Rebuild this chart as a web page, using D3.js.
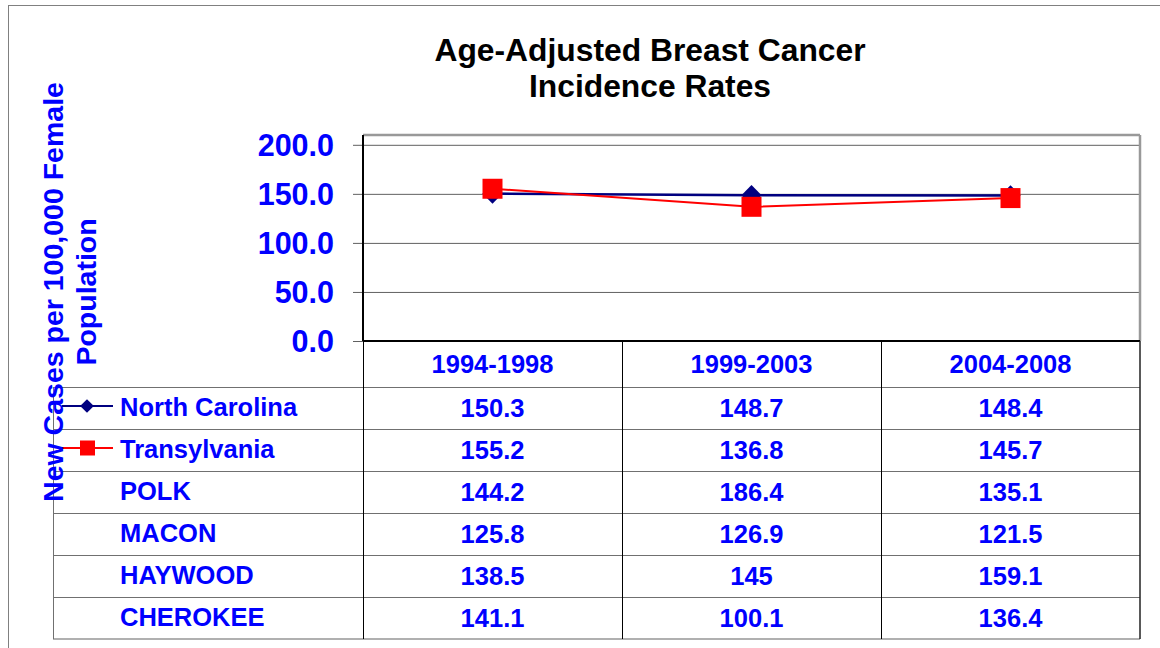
<!DOCTYPE html>
<html>
<head>
<meta charset="utf-8">
<script src="https://cdn.jsdelivr.net/npm/d3@7"></script>
<style>
  html, body { margin: 0; padding: 0; background: #fff; }
  svg { display: block; }
  text { font-family: "Liberation Sans", Arial, sans-serif; font-weight: bold; }
</style>
</head>
<body>
<script>
const periods = ["1994-1998", "1999-2003", "2004-2008"];
const regions = ["North Carolina", "Transylvania", "POLK", "MACON", "HAYWOOD", "CHEROKEE"];
const northCarolina = [150.3, 148.7, 148.4];
const transylvania = [155.2, 136.8, 145.7];
const polk = [144.2, 186.4, 135.1];
const macon = [125.8, 126.9, 121.5];
const haywood = [138.5, 145, 159.1];
const cherokee = [141.1, 100.1, 136.4];
const yTicks = [0, 50, 100, 150, 200];
const titleLines = ["Age-Adjusted Breast Cancer", "Incidence Rates"];
const yTitleLines = ["New Cases per 100,000 Female", "Population"];

const tableValues = [northCarolina, transylvania, polk, macon, haywood, cherokee];
const plotted = [
  { name: "North Carolina", values: northCarolina, color: "#000080", marker: "diamond" },
  { name: "Transylvania", values: transylvania, color: "#ff0000", marker: "square" }
];

const W = 1160, H = 648;
const blue = "#0000ff";
const svg = d3.select("body").append("svg").attr("width", W).attr("height", H);

// outer border
svg.append("rect").attr("x", 8.5).attr("y", 5.5).attr("width", 1170).attr("height", 660)
  .attr("fill", "none").attr("stroke", "#808080").attr("stroke-width", 1);

const plotL = 363, plotR = 1140, plotT = 135, plotB = 341;
const x = d3.scaleBand().domain(periods).range([plotL, plotR]);
const y = d3.scaleLinear().domain([0, 210]).range([plotB, plotT]);
const rowY = d3.scaleBand().domain(regions).range([387, 639]);

// title
svg.append("g").selectAll("text").data(titleLines).join("text")
  .attr("x", 650).attr("y", (d, i) => 61 + i * 36)
  .attr("text-anchor", "middle").attr("font-size", 31.8).attr("fill", "#000")
  .text(d => d);

// gridlines + ticks
const yAxis = d3.axisLeft(y).tickValues(yTicks).tickSize(-(plotR - plotL)).tickPadding(18)
  .tickFormat(d3.format(".1f"));
const gy = svg.append("g").attr("transform", `translate(${plotL},0)`).call(yAxis);
gy.select(".domain").remove();
gy.selectAll(".tick line").attr("stroke", "#606060").attr("stroke-width", 1)
  .attr("x1", -10);
gy.selectAll(".tick text").attr("font-size", 30.5).attr("fill", blue)
  .attr("font-family", "'Liberation Sans', Arial, sans-serif").attr("font-weight", "bold")
  .attr("dy", "0.36em").attr("x", -29);

// plot border
svg.append("line").attr("x1", plotL).attr("x2", plotR).attr("y1", plotT).attr("y2", plotT)
  .attr("stroke", "#999").attr("stroke-width", 2.5);
svg.append("line").attr("x1", plotR).attr("x2", plotR).attr("y1", plotT).attr("y2", plotB)
  .attr("stroke", "#999").attr("stroke-width", 2.5);
svg.append("line").attr("x1", plotL).attr("x2", plotL).attr("y1", plotT).attr("y2", plotB)
  .attr("stroke", "#000").attr("stroke-width", 2);
svg.append("line").attr("x1", plotL).attr("x2", plotR).attr("y1", y(0)).attr("y2", y(0))
  .attr("stroke", "#000").attr("stroke-width", 2);

// table grid
const tbl = svg.append("g");
const tableL = 53;
tbl.selectAll("line.h").data(regions.slice(1)).join("line")
  .attr("x1", tableL).attr("x2", plotR)
  .attr("y1", d => Math.round(rowY(d)) + 0.5).attr("y2", d => Math.round(rowY(d)) + 0.5)
  .attr("stroke", "#707070").attr("stroke-width", 1);
tbl.append("line").attr("x1", tableL).attr("x2", plotR)
  .attr("y1", rowY(regions[0]) + 0.5).attr("y2", rowY(regions[0]) + 0.5)
  .attr("stroke", "#707070").attr("stroke-width", 1);
tbl.append("line").attr("x1", tableL).attr("x2", plotR).attr("y1", 639).attr("y2", 639)
  .attr("stroke", "#b0b0b0").attr("stroke-width", 2);
tbl.append("line").attr("x1", tableL + 0.5).attr("x2", tableL + 0.5).attr("y1", 387).attr("y2", 639)
  .attr("stroke", "#707070").attr("stroke-width", 1);
tbl.selectAll("line.v").data(periods).join("line")
  .attr("x1", d => Math.round(x(d)) + 0.5).attr("x2", d => Math.round(x(d)) + 0.5)
  .attr("y1", plotB).attr("y2", 639).attr("stroke", "#000").attr("stroke-width", 1);
tbl.append("line").attr("x1", plotR).attr("x2", plotR).attr("y1", plotB).attr("y2", 639)
  .attr("stroke", "#222").attr("stroke-width", 1.5);

// header
tbl.selectAll("text.hdr").data(periods).join("text")
  .attr("x", d => x(d) + x.bandwidth() / 2).attr("y", 364 + 9)
  .attr("text-anchor", "middle").attr("font-size", 25.5).attr("fill", blue)
  .text(d => d);

// row labels
tbl.selectAll("text.rl").data(regions).join("text")
  .attr("x", 120).attr("y", d => rowY(d) + rowY.bandwidth() / 2 + 8)
  .attr("font-size", 25.5).attr("fill", blue).text(d => d);

// values
regions.forEach((r, ri) => {
  tbl.selectAll(null).data(tableValues[ri]).join("text")
    .attr("x", (d, i) => x(periods[i]) + x.bandwidth() / 2)
    .attr("y", rowY(r) + rowY.bandwidth() / 2 + 9)
    .attr("text-anchor", "middle").attr("font-size", 25.5).attr("fill", blue)
    .text(d => String(d));
});

// legend keys
plotted.forEach(s => {
  const cy = rowY(s.name) + rowY.bandwidth() / 2 - 2;
  svg.append("line").attr("x1", 62).attr("x2", 113).attr("y1", cy).attr("y2", cy)
    .attr("stroke", s.color).attr("stroke-width", 2);
  if (s.marker === "diamond") {
    svg.append("path").attr("d", d3.symbol(d3.symbolDiamond2, 120)())
      .attr("transform", `translate(87,${cy})`).attr("fill", s.color);
  } else {
    svg.append("rect").attr("x", 80).attr("y", cy - 7.5).attr("width", 15).attr("height", 15)
      .attr("fill", s.color);
  }
});

// series lines + markers
const line = d3.line().x((d, i) => x(periods[i]) + x.bandwidth() / 2).y(d => y(d));
plotted.forEach(s => {
  const g = svg.append("g");
  g.append("path").datum(s.values).attr("d", line).attr("fill", "none")
    .attr("stroke", s.color).attr("stroke-width", s.marker === "diamond" ? 2.5 : 2);
  g.selectAll("path.m").data(s.values).join("path")
    .attr("d", s.marker === "diamond" ? d3.symbol(d3.symbolDiamond2, 260)() : d3.symbol(d3.symbolSquare, 400)())
    .attr("transform", (d, i) => `translate(${x(periods[i]) + x.bandwidth() / 2},${y(d)})`)
    .attr("fill", s.color);
});

// y axis title
const yt = svg.append("g").attr("transform", "translate(0,292) rotate(-90)");
yt.selectAll("text").data(yTitleLines).join("text")
  .attr("x", 0).attr("y", (d, i) => 63 + i * 33)
  .attr("text-anchor", "middle").attr("font-size", 28.5).attr("fill", blue)
  .text(d => d);
</script>
</body>
</html>
